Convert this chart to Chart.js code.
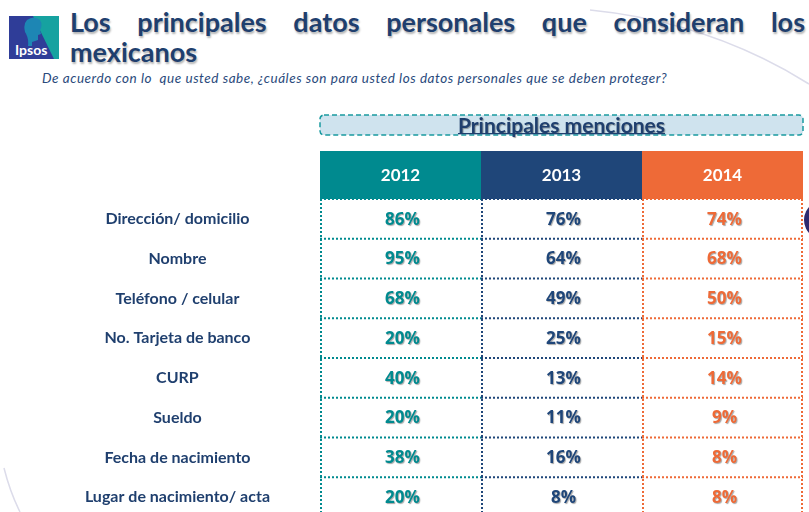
<!DOCTYPE html>
<html>
<head>
<meta charset="utf-8">
<script src="https://cdn.jsdelivr.net/npm/chart.js@4/dist/chart.umd.min.js"></script>
<style>
  body { margin: 0; width: 809px; height: 512px; overflow: hidden; background: #fff; position: relative; font-family: Lato, sans-serif; }
  #decor { position: absolute; left: 0; top: 0; }
  #title { position: absolute; left: 70px; top: 7px; width: 735px; font-weight: bold; font-size: 27px; line-height: 30px;
           color: #1f3f6e; text-align: justify; text-shadow: 1px 2px 2px rgba(0,0,0,.3); }
  #sub { position: absolute; left: 42px; top: 70px; font-style: italic; font-size: 13.5px; letter-spacing: 0.55px; color: #2a4a7c; white-space: pre; }
  #logo { position: absolute; left: 9px; top: 16px; }
  canvas { position: absolute; left: 0; top: 0; }
</style>
</head>
<body>
<svg id="decor" width="809" height="512">
  <path d="M590 10 Q710 22 809 84" fill="none" stroke="#dcdcea" stroke-width="1.5"/>
  <path d="M4 468 Q10 492 20 512" fill="none" stroke="#dcdcea" stroke-width="1.5"/>
  <ellipse cx="830" cy="220" rx="26" ry="22" fill="#2e2a6e"/>
</svg>
<svg id="logo" width="50" height="43" viewBox="0 0 50 43">
  <rect width="50" height="43" fill="#16a2a0"/>
  <polygon points="0,0 24,0 45,43 0,43" fill="#2f3d98"/>
  <path d="M18 4 Q25 -1 31 4 Q34 9 31 14 L32 18 L29 19 L29 24 L23 26 L23 30 L19 30 Q20 22 16 16 Q14 8 18 4 Z" fill="#1d86b4"/>
  <text x="6" y="39" font-family="Lato, sans-serif" font-size="14" font-weight="bold" fill="#fff">Ipsos</text>
</svg>
<div id="title">Los principales datos personales que consideran los mexicanos</div>
<div id="sub">De acuerdo con lo  que usted sabe, ¿cuáles son para usted los datos personales que se deben proteger?</div>
<canvas id="tableChart" width="809" height="520"></canvas>
<script>
const years = ['2012', '2013', '2014'];
const items = [
  'Dirección/ domicilio',
  'Nombre',
  'Teléfono / celular',
  'No. Tarjeta de banco',
  'CURP',
  'Sueldo',
  'Fecha de nacimiento',
  'Lugar de nacimiento/ acta'
];
const values2012 = [86, 95, 68, 20, 40, 20, 38, 20];
const values2013 = [76, 64, 49, 25, 13, 11, 16, 8];
const values2014 = [74, 68, 50, 15, 14, 9, 8, 8];
const boxTitle = 'Principales menciones';

const yearColors = ['#008a8f', '#1f4679', '#ee6a37'];
const allValues = [values2012, values2013, values2014];
const navy = '#1f3f6e';

// one dataset per year, one point per row (cell centre)
const datasets = years.map((yr, i) => ({
  label: yr,
  data: items.map(it => ({x: yr, y: it})),
  values: allValues[i],
  pointRadius: 0,
  pointHoverRadius: 0
}));

// coloured header band + "Principales menciones" box
const headerPlugin = {
  id: 'header',
  beforeDraw(chart) {
    const {ctx, chartArea} = chart;
    const x = chart.scales.x;
    const half = (x.getPixelForValue(1) - x.getPixelForValue(0)) / 2;
    ctx.save();
    years.forEach((yr, i) => {
      const c = x.getPixelForValue(i);
      ctx.fillStyle = yearColors[i];
      ctx.fillRect(c - half, x.top, half * 2, x.bottom - x.top);
    });
    // dashed box
    const bx = chartArea.left, bw = chartArea.right - chartArea.left, by = 115, bh = 20;
    ctx.beginPath();
    ctx.roundRect(bx, by, bw, bh, 4);
    ctx.fillStyle = '#cfe3ee';
    ctx.fill();
    ctx.setLineDash([5, 3]);
    ctx.lineWidth = 1.5;
    ctx.strokeStyle = '#1a9aa0';
    ctx.stroke();
    ctx.setLineDash([]);
    ctx.font = 'bold 21px Lato';
    ctx.textAlign = 'center';
    ctx.textBaseline = 'middle';
    ctx.shadowColor = 'rgba(0,0,0,0.35)';
    ctx.shadowOffsetX = 1;
    ctx.shadowOffsetY = 1;
    ctx.shadowBlur = 1;
    ctx.fillStyle = navy;
    const tx = bx + bw / 2;
    ctx.fillText(boxTitle, tx, by + bh / 2 + 1);
    const tw = ctx.measureText(boxTitle).width;
    ctx.shadowColor = 'transparent';
    ctx.fillRect(tx - tw / 2, by + bh - 2, tw, 1.2);
    ctx.restore();
  }
};

// dotted cell borders in each column colour
const gridPlugin = {
  id: 'dottedGrid',
  afterDatasetsDraw(chart) {
    const {ctx} = chart;
    const x = chart.scales.x, y = chart.scales.y;
    const half = (x.getPixelForValue(1) - x.getPixelForValue(0)) / 2;
    const rowH = y.getPixelForValue(1) - y.getPixelForValue(0);
    const rowEdges = [];
    for (let j = 0; j <= items.length; j++) rowEdges.push(y.getPixelForValue(0) - rowH / 2 + j * rowH);
    ctx.save();
    ctx.lineWidth = 2;
    ctx.setLineDash([2, 2]);
    years.forEach((yr, i) => {
      const c = x.getPixelForValue(i);
      ctx.strokeStyle = yearColors[i];
      rowEdges.forEach(ry => {
        ctx.beginPath();
        ctx.moveTo(c - half, ry);
        ctx.lineTo(c + half, ry);
        ctx.stroke();
      });
    });
    years.forEach((yr, i) => {
      const c = x.getPixelForValue(i);
      ctx.strokeStyle = yearColors[i];
      const edges = i === years.length - 1 ? [c - half + 1, c + half - 1] : [c - half + 1];
      edges.forEach(ex => {
        ctx.beginPath();
        ctx.moveTo(ex, rowEdges[0]);
        ctx.lineTo(ex, rowEdges[rowEdges.length - 1]);
        ctx.stroke();
      });
    });
    ctx.restore();
  }
};

// percentage text at each point
const valuePlugin = {
  id: 'cellValues',
  afterDraw(chart) {
    const {ctx} = chart;
    ctx.save();
    ctx.font = 'bold 17px "Open Sans"';
    ctx.textAlign = 'center';
    ctx.textBaseline = 'middle';
    ctx.shadowColor = 'rgba(0,0,0,0.35)';
    ctx.shadowOffsetX = 1;
    ctx.shadowOffsetY = 1;
    ctx.shadowBlur = 1;
    chart.data.datasets.forEach((ds, i) => {
      const meta = chart.getDatasetMeta(i);
      ctx.fillStyle = yearColors[i];
      meta.data.forEach((pt, j) => {
        ctx.fillText(ds.values[j] + '%', pt.x + 2, pt.y + 1);
      });
    });
    ctx.restore();
  }
};

// keep tick padding from shrinking the plot area
function noEdgePadding(s) {
  s.paddingTop = 0;
  s.paddingBottom = 0;
  s.paddingLeft = 0;
  s.paddingRight = 0;
}

new Chart(document.getElementById('tableChart'), {
  type: 'scatter',
  data: {datasets: datasets},
  options: {
    responsive: false,
    animation: false,
    events: [],
    layout: {padding: {top: 151, right: 6, bottom: 3, left: 0}},
    plugins: {legend: {display: false}, tooltip: {enabled: false}},
    scales: {
      x: {
        type: 'category',
        labels: years,
        position: 'top',
        offset: true,
        grid: {display: false, drawTicks: false},
        border: {display: false},
        ticks: {color: '#ffffff', font: {family: 'Lato', size: 17, weight: 'bold'}, padding: 13},
        afterFit: s => { s.height = 48; noEdgePadding(s); }
      },
      y: {
        type: 'category',
        labels: items,
        offset: true,
        grid: {display: false, drawTicks: false},
        border: {display: false},
        ticks: {color: navy, font: {family: 'Lato', size: 16, weight: 'bold'}, crossAlign: 'center', padding: 50},
        afterFit: s => { s.width = 320; noEdgePadding(s); }
      }
    }
  },
  plugins: [headerPlugin, gridPlugin, valuePlugin]
});
</script>
</body>
</html>
